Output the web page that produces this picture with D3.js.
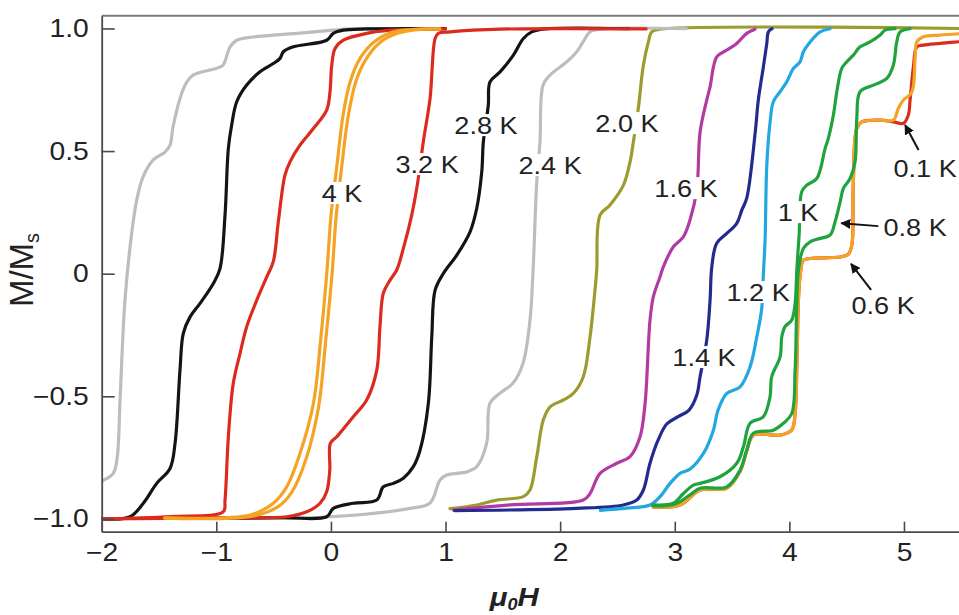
<!DOCTYPE html>
<html>
<head>
<meta charset="utf-8">
<script src="https://cdn.jsdelivr.net/npm/d3@7"></script>
<style>
  body { margin: 0; background: #fff; }
  svg { display: block; }
  text { font-family: "Liberation Sans", Arial, Helvetica, sans-serif; fill: #222; }
</style>
</head>
<body>
<svg id="chart" width="959" height="615"></svg>
<script>
// Magnetisation loops M/Ms versus applied field mu0H at several temperatures.
// Each branch is a list of [field, M/Ms] pairs.

// 2.4 K
const k24Down = [[-2.06,-0.87],[-2,-0.848],[-1.899,-0.814],[-1.864,-0.746],[-1.84,-0.515],[-1.797,-0.108],[-1.738,0.166],[-1.695,0.30],[-1.64,0.394],[-1.552,0.463],[-1.448,0.496],[-1.404,0.524],[-1.378,0.598],[-1.302,0.736],[-1.258,0.781],[-1.203,0.81],[-0.997,0.838],[-0.942,0.85],[-0.881,0.924],[-0.822,0.952],[-0.68,0.965],[-0.27,0.981],[0.018,0.993],[0.167,0.998],[0.5,0.999]];
const k24Up = [[-1.0,-0.997],[0.0,-0.991],[0.69,-0.957],[0.865,-0.935],[0.952,-0.841],[1.01,-0.821],[1.185,-0.808],[1.272,-0.787],[1.359,-0.691],[1.388,-0.528],[1.476,-0.487],[1.589,-0.446],[1.676,-0.365],[1.737,-0.189],[1.764,0.015],[1.796,0.375],[1.824,0.538],[1.851,0.769],[1.912,0.81],[2.058,0.864],[2.145,0.905],[2.2,0.945],[2.261,0.986],[2.375,0.998],[3.1,0.999]];

// 2.8 K
const k28Down = [[-2,-1.0],[-1.753,-0.991],[-1.637,-0.936],[-1.52,-0.855],[-1.404,-0.794],[-1.36,-0.692],[-1.317,-0.393],[-1.288,-0.243],[-1.229,-0.176],[-1.142,-0.121],[-1.026,-0.04],[-0.968,0.021],[-0.924,0.239],[-0.895,0.511],[-0.866,0.606],[-0.822,0.701],[-0.735,0.769],[-0.619,0.823],[-0.503,0.857],[-0.444,0.878],[-0.415,0.905],[-0.328,0.925],[-0.037,0.952],[0.021,0.98],[0.108,0.993],[0.312,0.998],[1.0,0.999]];
const k28Up = [[-1.2,-0.998],[-0.415,-0.995],[-0.037,-0.991],[0.021,-0.957],[0.195,-0.936],[0.4,-0.923],[0.457,-0.869],[0.545,-0.855],[0.632,-0.834],[0.719,-0.787],[0.778,-0.719],[0.85,-0.529],[0.88,-0.257],[0.909,-0.067],[0.981,0.001],[1.098,0.076],[1.214,0.171],[1.272,0.266],[1.316,0.415],[1.33,0.538],[1.373,0.687],[1.388,0.782],[1.476,0.823],[1.592,0.891],[1.679,0.959],[1.752,0.986],[1.868,0.998],[2.6,0.999]];

// 3.2 K
const k32Down = [[-2,-1.0],[-1.4,-0.99],[-0.939,-0.97],[-0.924,-0.923],[-0.895,-0.665],[-0.852,-0.447],[-0.793,-0.325],[-0.735,-0.216],[-0.647,-0.108],[-0.56,-0.013],[-0.503,0.049],[-0.459,0.212],[-0.401,0.402],[-0.357,0.456],[-0.27,0.524],[-0.153,0.592],[-0.037,0.667],[-0.008,0.742],[0.007,0.85],[0.036,0.918],[0.108,0.952],[0.312,0.98],[0.516,0.993],[0.778,0.997],[1.0,0.998]];
const k32Up = [[-2,-1.0],[-1.0,-0.995],[-0.386,-0.991],[-0.211,-0.971],[-0.095,-0.936],[-0.037,-0.889],[-0.01,-0.801],[-0.005,-0.692],[0.051,-0.665],[0.195,-0.583],[0.312,-0.515],[0.4,-0.393],[0.428,-0.216],[0.457,-0.08],[0.516,-0.026],[0.574,0.015],[0.632,0.103],[0.705,0.239],[0.749,0.348],[0.806,0.538],[0.865,0.715],[0.909,0.959],[0.937,0.98],[1.039,0.986],[1.476,0.997],[2.75,0.998]];

// 4 K
const k4Down = [[-1.45,-0.996],[-0.705,-0.984],[-0.503,-0.936],[-0.386,-0.869],[-0.27,-0.733],[-0.153,-0.529],[-0.087,-0.257],[-0.034,0.015],[0.001,0.239],[0.053,0.443],[0.106,0.647],[0.167,0.782],[0.254,0.878],[0.376,0.945],[0.545,0.986],[0.778,0.997],[0.95,0.998]];
const k4Up = [[-1.45,-0.997],[-0.7,-0.99],[-0.46,-0.95],[-0.34,-0.89],[-0.22,-0.76],[-0.11,-0.55],[-0.045,-0.27],[0.01,0.0],[0.045,0.23],[0.095,0.44],[0.15,0.64],[0.215,0.78],[0.3,0.87],[0.42,0.94],[0.58,0.98],[0.8,0.997],[0.95,0.998]];

// 2.0 K
const k20Up = [[1.039,-0.958],[1.272,-0.943],[1.447,-0.923],[1.679,-0.909],[1.737,-0.882],[1.796,-0.746],[1.853,-0.597],[1.912,-0.543],[2.028,-0.515],[2.115,-0.488],[2.202,-0.42],[2.261,-0.257],[2.304,-0.067],[2.319,0.015],[2.348,0.239],[2.435,0.28],[2.552,0.361],[2.61,0.456],[2.639,0.538],[2.682,0.674],[2.726,0.85],[2.77,0.945],[2.799,0.986],[2.872,0.997],[5.6,0.999]];

// 1.6 K
const k16Up = [[1.07,-0.964],[1.563,-0.943],[2.202,-0.923],[2.261,-0.896],[2.348,-0.814],[2.494,-0.773],[2.61,-0.746],[2.697,-0.665],[2.741,-0.529],[2.784,-0.189],[2.813,-0.094],[2.872,-0.012],[2.901,0.029],[2.988,0.11],[3.075,0.15],[3.133,0.219],[3.192,0.341],[3.221,0.578],[3.279,0.708],[3.308,0.762],[3.366,0.884],[3.454,0.912],[3.541,0.939],[3.628,0.98],[3.7,0.997]];

// 1.4 K
const k14Up = [[1.08,-0.966],[2.144,-0.957],[2.551,-0.943],[2.668,-0.923],[2.726,-0.882],[2.784,-0.773],[2.855,-0.678],[2.93,-0.613],[3.029,-0.583],[3.125,-0.556],[3.192,-0.495],[3.221,-0.42],[3.279,-0.271],[3.308,-0.108],[3.323,0.028],[3.366,0.124],[3.454,0.164],[3.541,0.205],[3.585,0.259],[3.628,0.308],[3.701,0.572],[3.729,0.708],[3.773,0.843],[3.803,0.939],[3.817,0.986],[3.849,0.999]];

// 1.2 K
const k12Up = [[2.35,-0.965],[2.581,-0.956],[2.784,-0.943],[2.872,-0.909],[2.959,-0.855],[3.046,-0.814],[3.133,-0.797],[3.25,-0.733],[3.337,-0.638],[3.378,-0.556],[3.454,-0.488],[3.57,-0.461],[3.657,-0.38],[3.716,-0.257],[3.759,-0.141],[3.773,-0.005],[3.788,0.138],[3.803,0.443],[3.832,0.619],[3.86,0.701],[3.919,0.742],[3.977,0.782],[4.035,0.837],[4.093,0.864],[4.122,0.905],[4.181,0.945],[4.268,0.986],[4.355,0.999]];

// 1 K
const k10Up = [[2.811,-0.943],[2.988,-0.936],[3.075,-0.896],[3.162,-0.862],[3.221,-0.855],[3.395,-0.828],[3.541,-0.773],[3.599,-0.706],[3.657,-0.61],[3.773,-0.583],[3.831,-0.502],[3.846,-0.42],[3.919,-0.339],[3.934,-0.257],[3.962,-0.216],[4.021,-0.189],[4.05,-0.121],[4.065,0.015],[4.085,0.157],[4.108,0.334],[4.152,0.361],[4.239,0.388],[4.312,0.511],[4.34,0.552],[4.384,0.647],[4.414,0.742],[4.457,0.837],[4.501,0.864],[4.558,0.891],[4.617,0.925],[4.704,0.945],[4.792,0.973],[4.835,0.993],[4.922,0.999]];

// 0.8 K
const k08Up = [[2.811,-0.947],[3.003,-0.939],[3.133,-0.902],[3.221,-0.875],[3.454,-0.869],[3.57,-0.801],[3.628,-0.719],[3.686,-0.651],[3.86,-0.638],[3.948,-0.61],[4.021,-0.57],[4.05,-0.393],[4.065,-0.121],[4.079,0.015],[4.122,0.103],[4.181,0.13],[4.268,0.144],[4.355,0.157],[4.399,0.212],[4.443,0.293],[4.471,0.348],[4.53,0.388],[4.573,0.456],[4.588,0.633],[4.617,0.742],[4.733,0.769],[4.85,0.796],[4.907,0.85],[4.937,0.945],[4.966,0.986],[5.053,0.999]];

// 0.6 K
const k06Up = [[2.811,-0.951],[3.046,-0.943],[3.221,-0.882],[3.454,-0.874],[3.57,-0.805],[3.628,-0.723],[3.686,-0.658],[3.919,-0.658],[4.021,-0.637],[4.05,-0.57],[4.065,-0.38],[4.079,-0.108],[4.093,-0.013],[4.122,0.055],[4.181,0.062],[4.443,0.068],[4.515,0.08],[4.545,0.117],[4.558,0.375],[4.588,0.592],[4.632,0.619],[4.792,0.626],[4.907,0.626],[4.951,0.675],[4.995,0.708],[5.068,0.74],[5.097,0.878],[5.112,0.945],[5.169,0.966],[5.315,0.973],[5.533,0.98]];

// 0.1 K
const k01Up = [[2.811,-0.951],[3.046,-0.943],[3.221,-0.882],[3.454,-0.874],[3.57,-0.805],[3.628,-0.723],[3.686,-0.658],[3.919,-0.658],[4.021,-0.637],[4.05,-0.57],[4.065,-0.38],[4.079,-0.108],[4.093,-0.013],[4.122,0.055],[4.181,0.062],[4.443,0.068],[4.515,0.08],[4.545,0.117],[4.558,0.375],[4.588,0.592],[4.632,0.619],[4.792,0.626],[4.907,0.619],[4.995,0.613],[5.038,0.647],[5.053,0.708],[5.082,0.843],[5.112,0.925],[5.169,0.932],[5.315,0.939],[5.533,0.948]];

// Temperature labels, anchored in field / magnetisation units
const labelText = ["4 K","3.2 K","2.8 K","2.4 K","2.0 K","1.6 K","1.4 K","1.2 K","1 K","0.8 K","0.6 K","0.1 K"];
const labelH    = [0.097, 0.839, 1.353, 1.912, 2.583, 3.098, 3.255, 3.727, 4.076, 5.097, 4.818, 5.184];
const labelM    = [0.329, 0.447, 0.606, 0.443, 0.614, 0.349, -0.34, -0.075, 0.251, 0.19, -0.128, 0.431];

// Pointer arrows (tail -> tip) for the crowded low-temperature curves
const arrowFrom = [[5.127,0.504],[4.776,0.194],[4.713,-0.066]];
const arrowTo   = [[5.01,0.606],[4.453,0.206],[4.538,0.04]];

// Axis ticks
const xTicks = [-2,-1,0,1,2,3,4,5];
const xTickLabels = ["\u22122","\u22121","0","1","2","3","4","5"];
const yTicks = [-1,-0.5,0,0.5,1];
const yTickLabels = ["\u22121.0","\u22120.5","0","0.5","1.0"];

// Drawing order: later branches sit on top
const series = [
  { pts: k20Up, color: "#9d9b2e" },
  { pts: k16Up, color: "#b23aa2" },
  { pts: k14Up, color: "#232c8e" },
  { pts: k12Up, color: "#22a7e0" },
  { pts: k01Up, color: "#dc2a1f" },
  { pts: k06Up, color: "#f4a325" },
  { pts: k10Up, color: "#1fa33c" },
  { pts: k08Up, color: "#1fa33c" },
  { pts: k24Up, color: "#bcbdc1" },
  { pts: k24Down, color: "#bcbdc1" },
  { pts: k28Down, color: "#141414" },
  { pts: k28Up, color: "#141414" },
  { pts: k32Down, color: "#dc2a1f" },
  { pts: k32Up, color: "#dc2a1f" },
  { pts: k4Down, color: "#f4a325" },
  { pts: k4Up, color: "#f4a325" }
];

const svg = d3.select("#chart");
const plotLeft = 101.7, plotRight = 959, plotTop = 15.7, plotBottom = 531.7;
const stretch = 1.13;

const x = d3.scaleLinear().domain([-2, 5.48]).range([plotLeft, plotRight]);
const y = d3.scaleLinear().domain([-1.052, 1.052]).range([plotBottom, plotTop]);

const defs = svg.append("defs");
defs.append("clipPath").attr("id", "plot-clip")
  .append("rect").attr("x", plotLeft).attr("y", plotTop)
  .attr("width", plotRight - plotLeft).attr("height", plotBottom - plotTop);

defs.append("marker").attr("id", "arrowhead")
  .attr("viewBox", "0 0 10 10").attr("refX", 9).attr("refY", 5)
  .attr("markerWidth", 10).attr("markerHeight", 10)
  .attr("markerUnits", "userSpaceOnUse").attr("orient", "auto")
  .append("path").attr("d", "M0,0 L10,5 L0,10 z").attr("fill", "#111");

// Frame line along the top
svg.append("line").attr("x1", plotLeft).attr("x2", plotRight)
  .attr("y1", plotTop).attr("y2", plotTop)
  .attr("stroke", "#7a7a7a").attr("stroke-width", 2);

// Curves
const line = d3.line()
  .x(d => x(d[0])).y(d => y(d[1]))
  .curve(d3.curveCatmullRom.alpha(0.5));

svg.append("g").attr("clip-path", "url(#plot-clip)")
  .selectAll("path").data(series).join("path")
  .attr("d", d => line(d.pts))
  .attr("fill", "none")
  .attr("stroke", d => d.color)
  .attr("stroke-width", 3.2)
  .attr("stroke-linejoin", "round")
  .attr("stroke-linecap", "round");

// Axes with inward ticks
const xAxis = d3.axisBottom(x).tickValues(xTicks)
  .tickFormat((d, i) => xTickLabels[i])
  .tickSizeInner(-10).tickSizeOuter(0).tickPadding(12);
const yAxis = d3.axisLeft(y).tickValues(yTicks)
  .tickFormat((d, i) => yTickLabels[i])
  .tickSizeInner(-13).tickSizeOuter(0).tickPadding(13);

const gx = svg.append("g").attr("transform", `translate(0,${plotBottom})`).call(xAxis);
const gy = svg.append("g").attr("transform", `translate(${plotLeft},0)`).call(yAxis);

[gx, gy].forEach(g => {
  g.select(".domain").attr("stroke", "#4a4a4a").attr("stroke-width", 1.8);
  g.selectAll(".tick line").attr("stroke", "#4a4a4a").attr("stroke-width", 1.6);
  g.selectAll(".tick text").attr("fill", "#222").attr("font-size", 25)
    .attr("font-family", "'Liberation Sans', Arial, sans-serif");
});
gx.selectAll(".tick text").attr("transform", `scale(${stretch},1)`);
gy.selectAll(".tick text").attr("x", 0).attr("transform", `translate(-13,0) scale(${stretch},1)`);

// Temperature labels on a white knock-out so the curves break around them
const labels = svg.append("g").selectAll("g").data(labelText).join("g")
  .attr("transform", (d, i) => `translate(${x(labelH[i])},${y(labelM[i])})`);
labels.each(function (d) {
  const g = d3.select(this);
  const r = g.append("rect").attr("fill", "#fff");
  const t = g.append("text").text(d)
    .attr("text-anchor", "middle").attr("dy", "0.36em")
    .attr("font-size", 24).attr("transform", `scale(${stretch},1)`);
  const w = t.node().getComputedTextLength() * stretch;
  r.attr("x", -w / 2 - 3).attr("y", -11).attr("width", w + 6).attr("height", 22);
});

// Arrows
svg.append("g").selectAll("line").data(arrowFrom).join("line")
  .attr("x1", d => x(d[0])).attr("y1", d => y(d[1]))
  .attr("x2", (d, i) => x(arrowTo[i][0])).attr("y2", (d, i) => y(arrowTo[i][1]))
  .attr("stroke", "#111").attr("stroke-width", 2)
  .attr("marker-end", "url(#arrowhead)");

// Axis titles
const yTitle = svg.append("text")
  .attr("transform", "translate(33,270) rotate(-90)")
  .attr("text-anchor", "middle").attr("font-size", 33);
yTitle.append("tspan").text("M/M");
yTitle.append("tspan").text("s").attr("font-size", 20).attr("dy", 6);

const xTitle = svg.append("text")
  .attr("transform", `translate(${x(1.6)},606) scale(${stretch},1)`)
  .attr("text-anchor", "middle").attr("font-size", 26)
  .attr("font-style", "italic").attr("font-weight", "bold");
xTitle.append("tspan").text("\u03bc");
xTitle.append("tspan").text("0").attr("font-size", 16).attr("dy", 4);
xTitle.append("tspan").text("H").attr("dy", -4);
</script>
</body>
</html>
